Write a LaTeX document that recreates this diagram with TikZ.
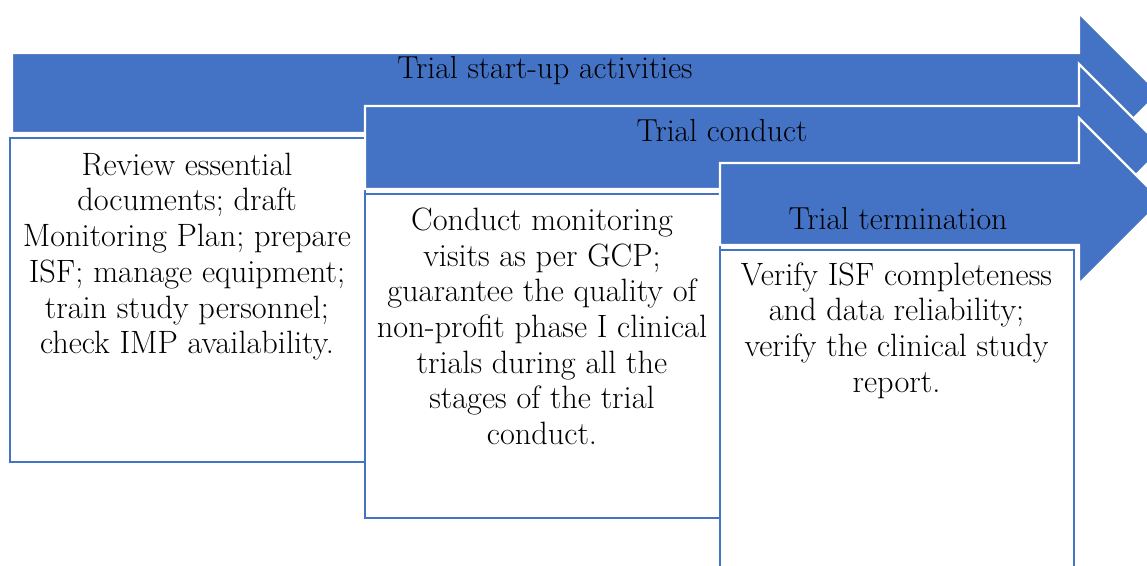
\documentclass[tikz,border=0pt]{standalone}
\definecolor{ablue}{HTML}{4472C4}
\tikzset{
  arrowst/.style={fill=ablue, draw=white, line width=2.2pt, line join=miter},
  boxst/.style={draw=ablue, line width=2.5pt, fill=white},
  lbl/.style={font=\fontsize{31.8}{36}\selectfont, inner sep=0pt, anchor=base},
  txt/.style={font=\fontsize{32.3}{35.7}\selectfont, align=center, inner sep=0pt, anchor=north},
}
\begin{document}
\begin{tikzpicture}[x=1pt,y=-1pt]
\useasboundingbox (0,0) rectangle (1147,565);
\clip (0,0) rectangle (1147,565);
% arrow 1
\path[arrowst] (12,53) -- (1079,53) -- (1079,13) -- (1159,93) -- (1079,173) -- (1079,133) -- (12,133) -- cycle;
\node[lbl] (l1) at (545,78) {Trial start-up activities};
% box 1
\draw[boxst] (10,138) rectangle (365,462);
\node[txt] (t1) at (187,152.6) {Review essential\\documents; draft\\Monitoring Plan; prepare\\ISF; manage equipment;\\train study personnel;\\check IMP availability.};
% arrow 2
\path[arrowst] (365,106) -- (1079,106) -- (1079,64) -- (1163,148) -- (1079,232) -- (1079,189) -- (365,189) -- cycle;
\node[lbl] (l2) at (722,141) {Trial conduct};
% box 2
\draw[boxst] (365,194) rectangle (720,518);
\node[txt] (t2) at (542,207.6) {Conduct monitoring\\visits as per GCP;\\guarantee the quality of\\non-profit phase I clinical\\trials during all the\\stages of the trial\\conduct.};
% arrow 3
\path[arrowst] (720,163) -- (1079,163) -- (1079,118) -- (1162,201) -- (1079,284) -- (1079,245) -- (720,245) -- cycle;
\node[lbl] (l3) at (898,229) {Trial termination};
% box 3
\draw[boxst] (720,250) rectangle (1074,600);
\node[txt] (t3) at (896.5,262.3) {Verify ISF completeness\\and data reliability;\\verify the clinical study\\report.};
\end{tikzpicture}
\end{document}
